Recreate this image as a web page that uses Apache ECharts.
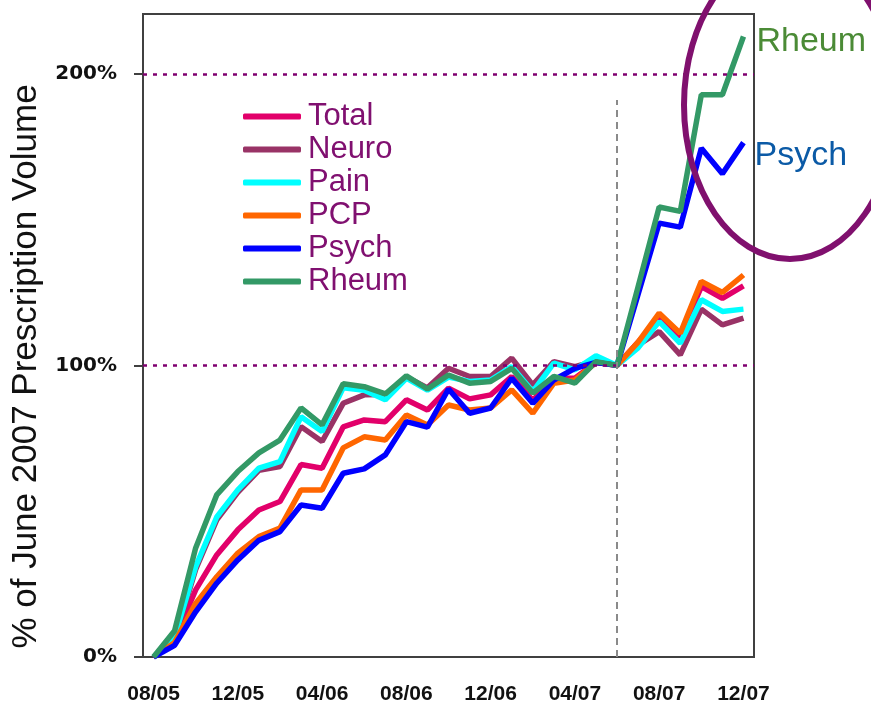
<!DOCTYPE html>
<html>
<head>
<meta charset="utf-8">
<script src="https://cdn.jsdelivr.net/npm/echarts@6/dist/echarts.min.js"></script>
<style>
  html, body { margin: 0; padding: 0; background: #fff; }
  #chart { width: 871px; height: 707px; }
</style>
</head>
<body>
<div id="chart"></div>
<script>
// months Aug 2005 .. Dec 2007
const months = [
  '08/05', '09/05', '10/05', '11/05', '12/05', '01/06', '02/06', '03/06',
  '04/06', '05/06', '06/06', '07/06', '08/06', '09/06', '10/06', '11/06',
  '12/06', '01/07', '02/07', '03/07', '04/07', '05/07', '06/07', '07/07',
  '08/07', '09/07', '10/07', '11/07', '12/07'
];

// % of June 2007 volume
const total = [0, 6, 23, 35, 43.6, 50.4, 53.3, 66, 64.7, 78.9, 81.3, 80.7, 88.2, 84.7, 92.2,
  88.5, 89.9, 96.2, 88, 95.6, 95.6, 101, 100, 108, 116, 110, 127, 123, 127.3];
const neuro = [0, 6, 30, 47, 56.5, 64, 65.3, 79, 73.9, 87, 89.9, 90, 96, 92.3, 99,
  96.2, 96.2, 102.5, 93.3, 101.3, 99.6, 101.5, 100, 107, 111.6, 103.6, 119.3, 113.9, 116.2];
const pain = [0, 7, 31, 48, 57.3, 64.8, 67, 82.4, 77.3, 92.3, 91.5, 88.2, 95.6, 91.5, 96,
  94.5, 95, 99.6, 91, 100.8, 98.5, 103.3, 100, 106, 115, 107.6, 122.5, 118.5, 119.3];
const pcp = [0, 5, 18.4, 27.5, 35.6, 41.3, 44.2, 57.3, 57.3, 71.7, 75.5, 74.4, 83, 79.6, 86.4,
  84.7, 85.4, 91.6, 83.6, 93.9, 95, 101, 100, 108, 117.9, 111, 128.8, 125, 131];
const psych = [0, 4, 15.5, 25.3, 33.3, 40, 43, 52.1, 51, 63, 64.5, 69.3, 80.7, 78.8, 91.9,
  83.6, 85.4, 95.6, 87, 95, 99, 101, 100, 124.4, 148.8, 147.4, 174.5, 165.7, 176.4];
const rheum = [0, 9, 37.4, 55.6, 63.6, 70, 74.4, 85.4, 79.6, 93.7, 92.7, 90.2, 96.4, 91.9, 96.7,
  93.9, 94.5, 99, 90.5, 96.2, 93.9, 101.3, 100, 127, 154.3, 152.8, 192.8, 192.8, 212.8];

const yTicks = [0, 100, 200];
const refLevels = [100, 200];
const baseMonth = '06/07';

const chart = echarts.init(document.getElementById('chart'));

const SANS = "'Liberation Sans', Arial, sans-serif";
const legendColor = '#801070';

function line(name, data, color, extra) {
  return Object.assign({
    name: name,
    type: 'line',
    data: data,
    symbol: 'none',
    lineStyle: { color: color, width: 5.5 },
    itemStyle: { color: color },
  }, extra || {});
}

const option = {
  animation: false,
  backgroundColor: '#fff',
  grid: { left: 143, right: 117, top: 14, bottom: 50, show: true, borderColor: '#404040', borderWidth: 2 },
  legend: {
    orient: 'vertical',
    left: 238,
    top: 95,
    itemWidth: 58,
    itemHeight: 6,
    itemGap: 0,
    icon: 'roundRect',
    data: ['Total', 'Neuro', 'Pain', 'PCP', 'Psych', 'Rheum'],
    textStyle: { color: legendColor, fontSize: 31, fontFamily: SANS, lineHeight: 33, padding: [0, 0, 0, 2] },
  },
  xAxis: {
    type: 'category',
    data: months,
    boundaryGap: true,
    axisLine: { lineStyle: { color: '#404040', width: 2 } },
    axisTick: { interval: 3, length: 8, lineStyle: { color: '#404040', width: 2 } },
    axisLabel: { interval: 3, margin: 27, color: '#111', fontSize: 21, fontWeight: 'bold', fontFamily: SANS },
  },
  yAxis: {
    type: 'value',
    min: 0,
    max: 220.5,
    interval: 100,
    name: '% of June 2007 Prescription Volume',
    nameLocation: 'middle',
    nameGap: 98,
    nameTextStyle: { color: '#111', fontSize: 35, fontFamily: SANS, padding: [0, 62, 0, 0] },
    splitLine: { show: false },
    axisLine: { show: true, lineStyle: { color: '#404040', width: 2 } },
    axisTick: { show: true, customValues: yTicks, length: 9, lineStyle: { color: '#404040', width: 2 } },
    axisLabel: {
      customValues: yTicks,
      margin: 26,
      color: '#111',
      fontSize: 20,
      fontWeight: 'bold',
      fontFamily: "'DejaVu Sans', Verdana, sans-serif",
      formatter: v => v + '%',
    },
  },
  series: [
    line('Total', total, '#e2006a', {
      markLine: {
        silent: true,
        symbol: 'none',
        label: { show: false },
        lineStyle: { color: '#800070', type: [4, 6], width: 2.5 },
        data: refLevels.map(v => ({ yAxis: v })),
      },
    }),
    line('Neuro', neuro, '#993366', {
      markLine: {
        silent: true,
        symbol: 'none',
        label: { show: false },
        lineStyle: { color: '#8a8a8a', type: [7, 5], width: 2 },
        data: [[{ coord: [baseMonth, 0] }, { coord: [baseMonth, 191] }]],
      },
    }),
    line('Pain', pain, '#00ffff'),
    line('PCP', pcp, '#ff6600'),
    line('Psych', psych, '#0000ff', {
      endLabel: { show: true, formatter: '{a}', color: '#0b5aa6', fontSize: 34, fontFamily: SANS, offset: [3, 13] },
    }),
    line('Rheum', rheum, '#339966', {
      endLabel: { show: true, formatter: '{a}', color: '#4b8b36', fontSize: 34, fontFamily: SANS, offset: [5, 5] },
    }),
  ],
  graphic: [{
    type: 'ellipse',
    silent: true,
    z: 100,
    shape: { cx: 790, cy: 105, rx: 106, ry: 154 },
    style: { fill: null, stroke: '#80106e', lineWidth: 6 },
  }],
};

chart.setOption(option);
</script>
</body>
</html>
